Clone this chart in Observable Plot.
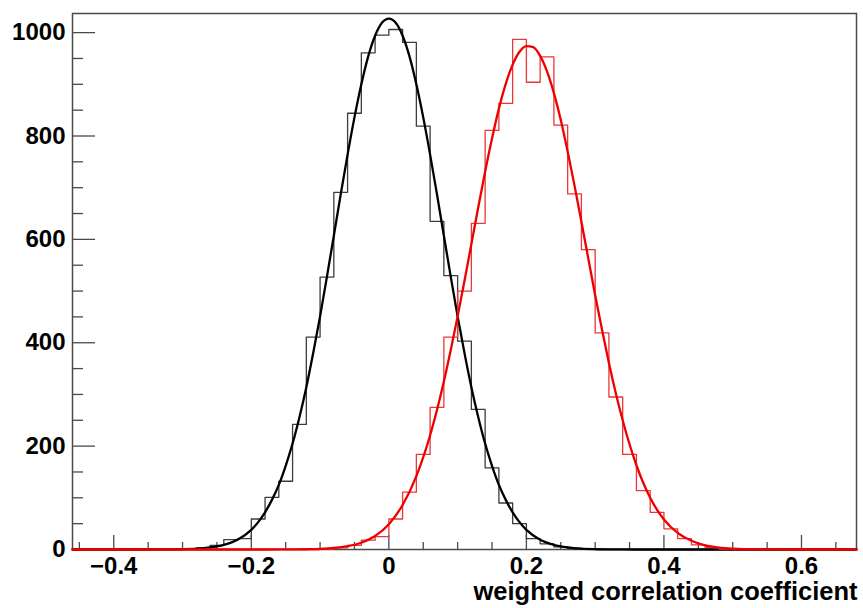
<!DOCTYPE html>
<html>
<head>
<meta charset="utf-8">
<script src="https://cdn.jsdelivr.net/npm/d3@7"></script>
<script src="https://cdn.jsdelivr.net/npm/@observablehq/plot@0.6"></script>
<style>
  html, body { margin: 0; padding: 0; background: #ffffff; }
  #chart { width: 863px; height: 608px; }
</style>
</head>
<body>
<div id="chart"></div>
<script>
// Histogram bin lower edges (bin width 0.02), last upper edge
const binLowEdges = [
  -0.46, -0.44, -0.42, -0.40, -0.38, -0.36, -0.34, -0.32, -0.30, -0.28,
  -0.26, -0.24, -0.22, -0.20, -0.18, -0.16, -0.14, -0.12, -0.10, -0.08,
  -0.06, -0.04, -0.02, 0.00, 0.02, 0.04, 0.06, 0.08, 0.10, 0.12,
  0.14, 0.16, 0.18, 0.20, 0.22, 0.24, 0.26, 0.28, 0.30, 0.32,
  0.34, 0.36, 0.38, 0.40, 0.42, 0.44, 0.46, 0.48, 0.50, 0.52,
  0.54, 0.56, 0.58, 0.60, 0.62, 0.64, 0.66
];
const binUpperEnd = 0.68;

// Black histogram counts
const blackCounts = [
  0, 0, 0, 0, 0, 0, 0, 0, 1, 3,
  8, 19, 21, 59, 101, 132, 242, 411, 527, 691,
  844, 961, 995, 1006, 981, 819, 635, 530, 403, 271,
  158, 90, 50, 21, 11, 5, 2, 1, 0, 0,
  0, 0, 0, 0, 0, 0, 0, 0, 0, 0,
  0, 0, 0, 0, 0, 0, 0
];
// Red histogram counts
const redCounts = [
  0, 0, 0, 0, 0, 0, 0, 0, 0, 0,
  0, 0, 0, 0, 0, 0, 0, 0, 1, 3,
  8, 18, 25, 59, 111, 184, 275, 411, 500, 631,
  811, 863, 987, 904, 953, 821, 688, 580, 419, 295,
  184, 114, 72, 40, 21, 9, 4, 1, 0, 0,
  0, 0, 0, 0, 0, 0, 0
];

// Fit curve of the black histogram
const blackFitX = [
  -0.46, -0.40, -0.36, -0.34, -0.32, -0.30, -0.28, -0.26, -0.24, -0.22,
  -0.20, -0.19, -0.18, -0.17, -0.16, -0.15, -0.14, -0.13, -0.12, -0.11,
  -0.10, -0.09, -0.08, -0.07, -0.06, -0.05, -0.04, -0.03, -0.02, -0.01,
  0.00, 0.01, 0.02, 0.03, 0.04, 0.05, 0.06, 0.07, 0.08, 0.09,
  0.10, 0.11, 0.12, 0.13, 0.14, 0.15, 0.16, 0.17, 0.18, 0.19,
  0.20, 0.22, 0.24, 0.26, 0.28, 0.30, 0.32, 0.34, 0.36, 0.40, 0.46, 0.68
];
const blackFitY = [
  0, 0, 0, 0.1, 0.2, 0.6, 1.6, 4, 9, 19,
  38, 53, 72, 96, 125, 162, 205, 256, 314, 380,
  451, 528, 607, 687, 764, 836, 900, 954, 994, 1019,
  1027, 1019, 994, 954, 900, 836, 764, 687, 607, 528,
  451, 380, 314, 256, 205, 162, 125, 96, 72, 53,
  38, 19, 9, 4, 1.6, 0.6, 0.2, 0.1, 0, 0, 0, 0
];

// Fit curve of the red histogram
const redFitX = [
  -0.46, -0.30, -0.20, -0.16, -0.14, -0.12, -0.10, -0.08, -0.06, -0.04,
  -0.02, 0.00, 0.02, 0.04, 0.06, 0.08, 0.09, 0.10, 0.11, 0.12,
  0.13, 0.14, 0.15, 0.16, 0.17, 0.18, 0.19, 0.20, 0.21, 0.22,
  0.23, 0.24, 0.25, 0.26, 0.27, 0.28, 0.29, 0.30, 0.31, 0.32,
  0.34, 0.36, 0.38, 0.40, 0.42, 0.44, 0.46, 0.48, 0.50, 0.52,
  0.54, 0.56, 0.60, 0.68
];
const redFitY = [
  0, 0, 0, 0.1, 0.2, 0.5, 1.2, 2.9, 6.4, 13,
  26, 49, 86, 142, 221, 325, 386, 451, 520, 591,
  662, 731, 795, 853, 901, 938, 963, 974, 972, 955,
  925, 883, 831, 770, 704, 634, 563, 492, 425, 361,
  250, 163, 100, 58, 32, 17, 8, 3.7, 1.6, 0.7,
  0.3, 0.1, 0, 0
];

// Axis ticks and labels
const xMajorTicks = [-0.4, -0.2, 0, 0.2, 0.4, 0.6];
const xMajorLabels = ["\u22120.4", "\u22120.2", "0", "0.2", "0.4", "0.6"];
const xMinorTicks = [-0.45, -0.35, -0.3, -0.25, -0.15, -0.1, -0.05, 0.05, 0.1, 0.15,
  0.25, 0.3, 0.35, 0.45, 0.5, 0.55, 0.65];
const yMajorTicks = [0, 200, 400, 600, 800, 1000];
const yMajorLabels = ["0", "200", "400", "600", "800", "1000"];
const yMinorTicks = [50, 100, 150, 250, 300, 350, 450, 500, 550, 650, 700, 750,
  850, 900, 950];
const xTitle = "weighted correlation coefficient";

// Build step tables
function stepTable(counts) {
  const rows = binLowEdges.map((x, i) => ({x, y: counts[i]}));
  rows.push({x: binUpperEnd, y: counts[counts.length - 1]});
  return rows;
}
const blackHist = stepTable(blackCounts);
const redHist = stepTable(redCounts);
const blackFit = blackFitX.map((x, i) => ({x, y: blackFitY[i]}));
const redFit = redFitX.map((x, i) => ({x, y: redFitY[i]}));

const font = "'Liberation Sans', Arial, Helvetica, sans-serif";
const axisColor = "#4a4a4a";

const W = 863, H = 608;
const mL = 72, mR = 7, mT = 13, mB = 59;
const plotW = W - mL - mR;   // 784
const plotH = H - mT - mB;   // 536

const chart = Plot.plot({
  width: W,
  height: H,
  marginLeft: mL,
  marginRight: mR,
  marginTop: mT,
  marginBottom: mB,
  style: {fontFamily: font, background: "#ffffff", color: "#000000"},
  x: {domain: [-0.46, 0.68], axis: null},
  y: {domain: [0, 1037], axis: null},
  marks: [
    Plot.frame({stroke: axisColor, strokeWidth: 1.5}),
    // inward ticks (ROOT style)
    Plot.tickY(yMinorTicks, {y: d => d, insetRight: plotW - 11, stroke: axisColor, strokeWidth: 1.3}),
    Plot.tickY(yMajorTicks, {y: d => d, insetRight: plotW - 23, stroke: axisColor, strokeWidth: 1.3}),
    Plot.tickX(xMinorTicks, {x: d => d, insetTop: plotH - 7, stroke: axisColor, strokeWidth: 1.3}),
    Plot.tickX(xMajorTicks, {x: d => d, insetTop: plotH - 14, stroke: axisColor, strokeWidth: 1.3}),
    // tick labels
    Plot.text(yMajorTicks, {y: d => d, frameAnchor: "left", text: (d, i) => yMajorLabels[i], textAnchor: "end", dx: -7, fontSize: 24, fontWeight: "bold", fill: "#000"}),
    Plot.text(xMajorTicks, {x: d => d, frameAnchor: "bottom", text: (d, i) => xMajorLabels[i], lineAnchor: "top", dy: 7, fontSize: 24, fontWeight: "bold", fill: "#000"}),
    Plot.text([xTitle], {frameAnchor: "bottom-right", text: d => d, textAnchor: "end", lineAnchor: "top", dy: 32, dx: 1, fontSize: 25.5, fontWeight: "bold", fill: "#000"}),
    // histograms and fits
    Plot.line(blackHist, {x: "x", y: "y", curve: "step-after", stroke: "#3c3c3c", strokeWidth: 1.3}),
    Plot.line(blackFit, {x: "x", y: "y", curve: "monotone-x", stroke: "#000000", strokeWidth: 2.3}),
    Plot.line(redHist, {x: "x", y: "y", curve: "step-after", stroke: "#e83838", strokeWidth: 1.3}),
    Plot.line(redFit, {x: "x", y: "y", curve: "monotone-x", stroke: "#ee0000", strokeWidth: 2.3})
  ]
});
document.getElementById("chart").appendChild(chart);
</script>
</body>
</html>
